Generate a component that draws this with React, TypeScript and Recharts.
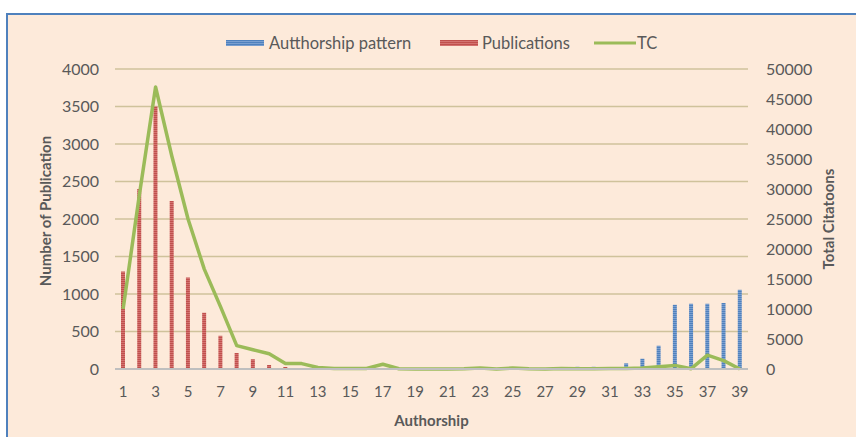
import React from 'react';
import { ComposedChart, Bar, Line, XAxis, YAxis, CartesianGrid, Legend, Label } from 'recharts';

const categories = [1, 2, 3, 4, 5, 6, 7, 8, 9, 10, 11, 12, 13, 14, 15, 16, 17, 18, 19, 20, 21, 22, 23, 24, 25, 26, 27, 28, 29, 30, 31, 32, 33, 34, 35, 36, 37, 38, 39];
const authorshipPattern = [0, 0, 0, 0, 0, 0, 0, 0, 0, 0, 0, 0, 0, 0, 0, 0, 0, 0, 0, 0, 0, 0, 0, 0, 0, 0, 0, 0, 30, 30, 13, 75, 137, 310, 856, 870, 870, 880, 1056];
const publications = [1300, 2400, 3500, 2240, 1220, 750, 443, 213, 130, 53, 27, 8, 0, 0, 0, 0, 0, 0, 0, 0, 0, 0, 0, 0, 0, 0, 0, 0, 0, 0, 0, 0, 0, 0, 0, 0, 0, 0, 0];
const totalCitations = [10000, 29000, 47000, 35500, 25000, 16650, 10400, 3900, 3200, 2550, 900, 900, 250, 100, 100, 100, 800, 50, 20, 10, 10, 50, 150, 20, 150, 30, 20, 100, 30, 50, 80, 100, 170, 380, 600, 50, 2300, 1400, 0];
const leftTicks = [0, 500, 1000, 1500, 2000, 2500, 3000, 3500, 4000];
const rightTicks = [0, 5000, 10000, 15000, 20000, 25000, 30000, 35000, 40000, 45000, 50000];

const data = categories.map((c, i) => ({
  cat: c,
  auth: authorshipPattern[i],
  pub: publications[i],
  tc: totalCitations[i],
}));

const FONT = 'Lato, "Open Sans", sans-serif';
const TXT = '#595959';

const renderLegend = () => (
  <div style={{ position: 'relative', width: 848, height: 20, fontFamily: FONT, fontSize: 16.5, color: TXT }}>
    <svg style={{ position: 'absolute', left: 218, top: 7 }} width={38} height={6}>
      <rect x={0} y={0} width={38} height={6} fill="url(#patBlue)" />
    </svg>
    <span style={{ position: 'absolute', left: 261, top: 0, lineHeight: '20px' }}>Autthorship pattern</span>
    <svg style={{ position: 'absolute', left: 432, top: 7 }} width={38} height={6}>
      <rect x={0} y={0} width={38} height={6} fill="url(#patRed)" />
    </svg>
    <span style={{ position: 'absolute', left: 474, top: 0, lineHeight: '20px' }}>Publications</span>
    <svg style={{ position: 'absolute', left: 586, top: 8 }} width={42} height={4}>
      <line x1={0} y1={2} x2={42} y2={2} stroke="#9BBB59" strokeWidth={3} />
    </svg>
    <span style={{ position: 'absolute', left: 629, top: 0, lineHeight: '20px' }}>TC</span>
  </div>
);

export default function App() {
  return (
    <div style={{ position: 'absolute', left: 0, top: 0, width: 856, height: 437, background: '#ffffff', overflow: 'hidden' }}>
      <svg width={0} height={0} style={{ position: 'absolute' }}>
        <defs>
          <pattern id="patRed" width={4} height={2} patternUnits="userSpaceOnUse">
            <rect x={0} y={0} width={4} height={2} fill="#C0504D" />
            <rect x={0} y={1} width={4} height={1} fill="#D47370" />
          </pattern>
          <pattern id="patBlue" width={4} height={2} patternUnits="userSpaceOnUse">
            <rect x={0} y={0} width={4} height={2} fill="#4F81BD" />
            <rect x={0} y={1} width={4} height={1} fill="#7A9FD0" />
          </pattern>
        </defs>
      </svg>
      <div
        style={{
          position: 'absolute',
          left: 6,
          top: 13,
          width: 850,
          height: 424,
          background: '#FDEADA',
          borderTop: '2px solid #4F81BD',
          borderLeft: '2px solid #4F81BD',
          boxSizing: 'border-box',
        }}
      >
        <ComposedChart
          width={848}
          height={422}
          data={data}
          margin={{ top: 34, right: 0, bottom: 38, left: 0 }}
          style={{ fontFamily: FONT }}
        >
          <CartesianGrid vertical={false} stroke="#CFC29B" strokeWidth={1.3} yAxisId="left" />
          <Legend verticalAlign="top" content={renderLegend} wrapperStyle={{ top: 18, left: 0, width: 848 }} />
          <XAxis
            dataKey="cat"
            interval={1}
            axisLine={{ stroke: '#BFBFBF', strokeWidth: 2 }}
            tickLine={false}
            tickSize={8}
            tickMargin={9}
            height={30}
            tick={{ fill: TXT, fontSize: 15, fontFamily: FONT }}
          >
            <Label value="Authorship" position="center" dy={37} fill={TXT} fontSize={15} fontWeight="bold" fontFamily={FONT} />
          </XAxis>
          <YAxis
            yAxisId="left"
            orientation="left"
            width={107}
            domain={[0, 4000]}
            ticks={leftTicks}
            axisLine={false}
            tickLine={false}
            tickSize={6}
            tickMargin={10}
            tick={{ fill: TXT, fontSize: 16, fontFamily: FONT }}
          >
            <Label value="Number of Publication" angle={-90} position="center" dx={-16} dy={-8} fill={TXT} fontSize={15} fontWeight="bold" fontFamily={FONT} />
          </YAxis>
          <YAxis
            yAxisId="right"
            orientation="right"
            width={108}
            domain={[0, 50000]}
            ticks={rightTicks}
            axisLine={false}
            tickLine={false}
            tickSize={6}
            tickMargin={12}
            tick={{ fill: TXT, fontSize: 16, fontFamily: FONT, textAnchor: 'start' }}
          >
            <Label value="Total Citatoons" angle={-90} position="center" dx={27} dy={0} fill={TXT} fontSize={15} fontWeight="bold" fontFamily={FONT} />
          </YAxis>
          <Bar yAxisId="left" dataKey="auth" name="Autthorship pattern" stackId="s" barSize={4} fill="url(#patBlue)" isAnimationActive={false} />
          <Bar yAxisId="left" dataKey="pub" name="Publications" stackId="s" barSize={4} fill="url(#patRed)" isAnimationActive={false} />
          <Line
            yAxisId="right"
            dataKey="tc"
            name="TC"
            type="linear"
            stroke="#9BBB59"
            strokeWidth={3.5}
            strokeLinejoin="round"
            dot={false}
            activeDot={false}
            isAnimationActive={false}
          />
        </ComposedChart>
      </div>
    </div>
  );
}
